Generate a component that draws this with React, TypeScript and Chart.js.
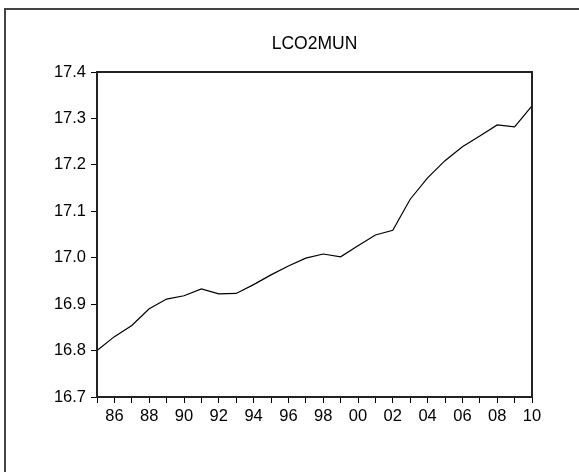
import React, { useEffect, useRef } from "react";
import { Chart, registerables } from "chart.js";

Chart.register(...registerables);

const chartTitle = "LCO2MUN";

const years = [
  1985, 1986, 1987, 1988, 1989, 1990, 1991, 1992, 1993, 1994, 1995, 1996, 1997,
  1998, 1999, 2000, 2001, 2002, 2003, 2004, 2005, 2006, 2007, 2008, 2009, 2010,
];

const lco2mun = [
  16.8, 16.83, 16.854, 16.89, 16.911, 16.918, 16.933, 16.922, 16.923, 16.942,
  16.963, 16.982, 16.999, 17.008, 17.002, 17.026, 17.049, 17.059, 17.126,
  17.172, 17.209, 17.239, 17.262, 17.286, 17.282, 17.327,
];

const xTickLabels = [
  "", "86", "", "88", "", "90", "", "92", "", "94", "", "96", "", "98", "",
  "00", "", "02", "", "04", "", "06", "", "08", "", "10",
];

const yMin = 16.7;
const yMax = 17.4;
const yStep = 0.1;

const FONT = "'Liberation Sans', Arial, sans-serif";

const framePlugin = {
  id: "framePlugin",
  afterDraw(chart: any) {
    const { ctx, chartArea } = chart;
    ctx.save();
    ctx.strokeStyle = "#222";
    ctx.lineWidth = 2;
    ctx.strokeRect(
      chartArea.left,
      chartArea.top,
      chartArea.right - chartArea.left,
      chartArea.bottom - chartArea.top
    );
    ctx.strokeStyle = "#444";
    ctx.lineWidth = 2;
    ctx.beginPath();
    ctx.moveTo(5, chart.height + 2);
    ctx.lineTo(5, 9);
    ctx.lineTo(chart.width + 2, 9);
    ctx.stroke();
    ctx.restore();
  },
};

export default function App() {
  const canvasRef = useRef<HTMLCanvasElement | null>(null);

  useEffect(() => {
    if (!canvasRef.current) return;
    const chart = new Chart(canvasRef.current, {
      type: "line",
      data: {
        labels: years.map(String),
        datasets: [
          {
            label: chartTitle,
            data: lco2mun,
            borderColor: "#000",
            borderWidth: 1.2,
            pointRadius: 0,
            tension: 0,
            fill: false,
          },
        ],
      },
      options: {
        animation: false,
        responsive: false,
        events: [],
        layout: { padding: { left: 0, right: 47, top: 0, bottom: 0 } },
        plugins: {
          legend: { display: false },
          tooltip: { enabled: false },
          title: {
            display: true,
            text: chartTitle,
            fullSize: false,
            color: "#000",
            font: { family: FONT, size: 17.5, weight: "normal" },
            padding: { top: 34, bottom: 17 },
          },
        },
        scales: {
          x: {
            type: "category",
            offset: false,
            afterFit(scale: any) {
              scale.height = 75;
            },
            grid: {
              display: true,
              drawOnChartArea: false,
              drawTicks: true,
              tickLength: 6,
              color: "#000",
              lineWidth: 1,
            },
            border: { display: true, color: "#222", width: 2 },
            ticks: {
              autoSkip: false,
              maxRotation: 0,
              minRotation: 0,
              padding: 4,
              color: "#000",
              font: { family: FONT, size: 16.5 },
              callback: (_v: any, i: number) => xTickLabels[i],
            },
          },
          y: {
            min: yMin,
            max: yMax,
            afterFit(scale: any) {
              scale.width = 97;
            },
            grid: {
              display: true,
              drawOnChartArea: false,
              drawTicks: true,
              tickLength: 6,
              color: "#000",
              lineWidth: 1,
            },
            border: { display: true, color: "#222", width: 2 },
            ticks: {
              stepSize: yStep,
              padding: 5,
              color: "#000",
              font: { family: FONT, size: 16.5 },
              callback: (v: any) => Number(v).toFixed(1),
            },
          },
        },
      },
      plugins: [framePlugin],
    });
    return () => chart.destroy();
  }, []);

  return (
    <div style={{ position: "absolute", left: 0, top: 0, width: 579, height: 472, background: "#fff" }}>
      <canvas ref={canvasRef} width={579} height={472} style={{ display: "block" }} />
    </div>
  );
}
